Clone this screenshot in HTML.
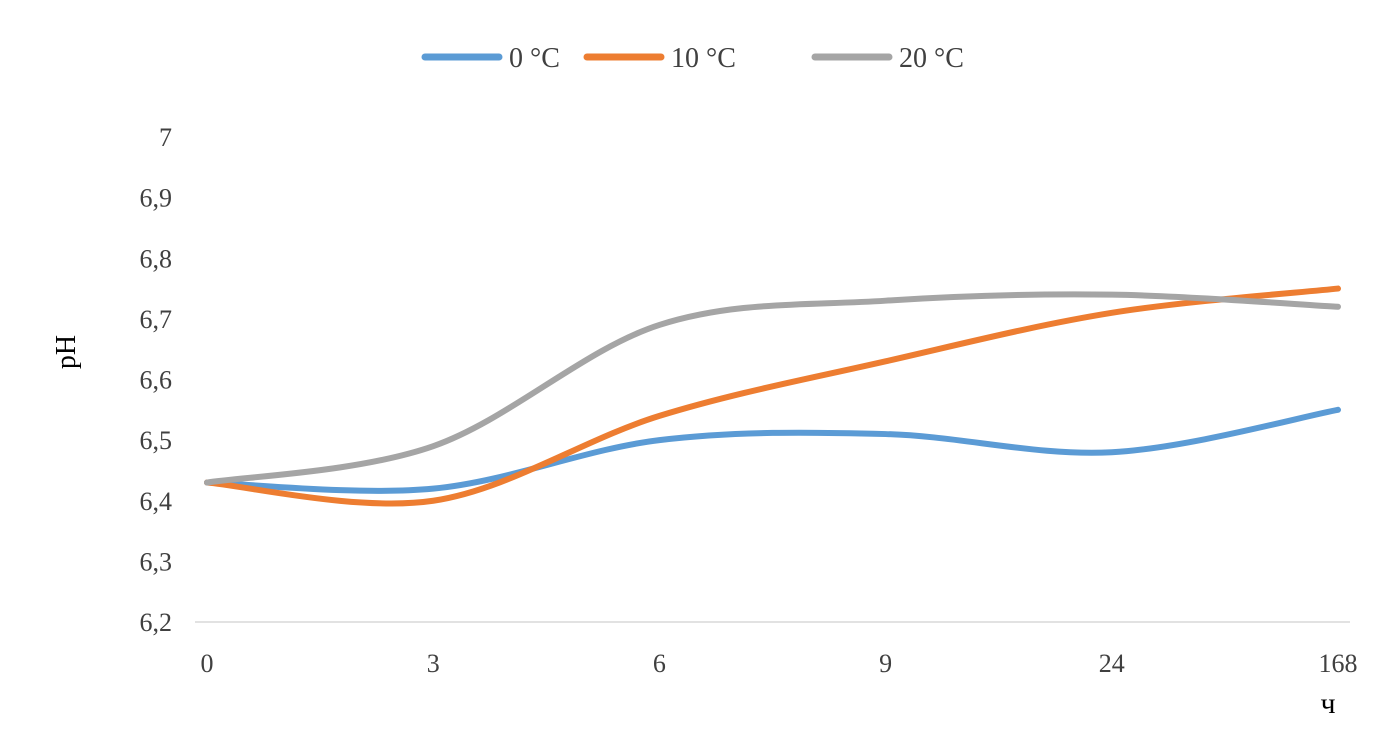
<!DOCTYPE html>
<html><head><meta charset="utf-8"><style>
body{margin:0;background:#fff;}
svg{display:block;font-family:"Liberation Serif","DejaVu Serif",serif;}
</style></head><body>
<svg id="chart" width="1397" height="736" viewBox="0 0 1397 736">
<g id="legend"></g>
<text x="75" y="352" font-size="28" text-anchor="middle" transform="rotate(-90 75 352)">pH</text>
<text x="1328" y="713" font-size="30" text-anchor="middle">ч</text>
<g id="yticks"></g><g id="xticks"></g>
<line x1="195" y1="622" x2="1350" y2="622" stroke="#d9d9d9" stroke-width="1.5"/>
<g id="series"></g>
</svg>
<script>
const categories=["0","3","6","9","24","168"];
const yTicks=[6.2,6.3,6.4,6.5,6.6,6.7,6.8,6.9,7];
const yTickLabels=["6,2","6,3","6,4","6,5","6,6","6,7","6,8","6,9","7"];
const seriesNames=["0 °C","10 °C","20 °C"];
const s0=[6.43,6.42,6.50,6.51,6.48,6.55];
const s10=[6.43,6.40,6.54,6.63,6.71,6.75];
const s20=[6.43,6.49,6.69,6.73,6.74,6.72];
const colors=["#5b9bd5","#ed7d31","#a5a5a5"];
const NS="http://www.w3.org/2000/svg";
const x=i=>207+i*226.2;
const y=v=>622-(v-6.2)/0.8*485;
function mk(tag,attrs,parent,text){const e=document.createElementNS(NS,tag);for(const k in attrs)e.setAttribute(k,attrs[k]);if(text!==undefined)e.textContent=text;parent.appendChild(e);return e;}
const yt=document.getElementById('yticks');
yTicks.forEach((v,i)=>{const t=mk('text',{x:172,y:y(v)+9,'font-size':26,'text-anchor':'end',fill:'#404040'},yt,yTickLabels[i]);

});
const xt=document.getElementById('xticks');
categories.forEach((c,i)=>{const t=mk('text',{x:x(i),y:672,'font-size':26,'text-anchor':'middle',fill:'#404040'},xt,c);

});
function smooth(vals){const p=vals.map((v,i)=>[x(i),y(v)]);let d=`M${p[0][0]},${p[0][1]}`;
for(let i=0;i<p.length-1;i++){const p0=p[i-1]||p[i],p1=p[i],p2=p[i+1],p3=p[i+2]||p2;const t=1/6;
d+=` C${p1[0]+(p2[0]-p0[0])*t},${p1[1]+(p2[1]-p0[1])*t} ${p2[0]-(p3[0]-p1[0])*t},${p2[1]-(p3[1]-p1[1])*t} ${p2[0]},${p2[1]}`;}return d;}
const sg=document.getElementById('series');
[s0,s10,s20].forEach((s,i)=>{const l=mk('path',{d:smooth(s),fill:'none',stroke:colors[i],'stroke-width':6,'stroke-linecap':'round'},sg);

});
const lg=document.getElementById('legend');
const lx=[425,587,815];
seriesNames.forEach((n,i)=>{const g=mk('g',{},lg);


mk('line',{x1:lx[i],y1:57,x2:lx[i]+74,y2:57,stroke:colors[i],'stroke-width':7,'stroke-linecap':'round'},g);
mk('text',{x:lx[i]+84,y:67,'font-size':28,fill:'#404040'},g,n);});
</script>
</body></html>
